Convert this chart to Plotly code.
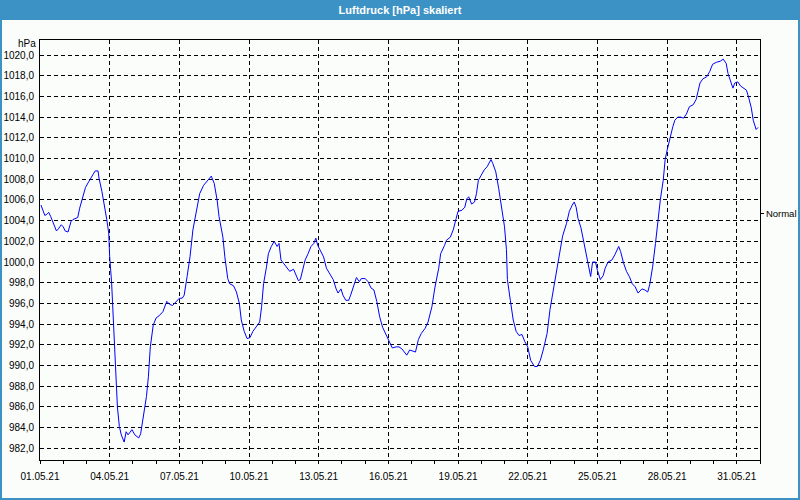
import pandas as pd
import plotly.graph_objects as go

# ---- data ----
start_date = "2021-05-01"
end_date = "2021-06-01"
hours = [1, 5, 7, 9, 11, 14, 17, 19, 22, 24, 26, 29, 32, 34, 39, 41, 44, 47, 50, 52,
         55, 57, 60, 61, 64, 66, 69, 71, 72, 74, 76, 78, 80, 82, 84, 87, 89, 91, 95, 98,
         102, 104, 107, 110, 112, 114, 117, 120, 123, 127, 131, 134, 137, 141, 144, 147, 149, 152, 155, 158,
         162, 165, 169, 172, 175, 177, 180, 183, 185, 189, 191, 194, 196, 200, 203, 206, 208, 211, 214, 217,
         220, 223, 227, 229, 231, 234, 236, 239, 242, 245, 247, 249, 253, 256, 258, 262, 265, 267, 269, 271,
         274, 277, 280, 283, 285, 287, 289, 293, 296, 300, 303, 306, 308, 311, 313, 316, 319, 321, 324, 327,
         330, 332, 336, 339, 342, 345, 348, 351, 354, 358, 361, 364, 368, 371, 374, 376, 379, 382, 385, 388,
         391, 394, 398, 401, 405, 408, 412, 414, 418, 420, 424, 427, 430, 432, 436, 439, 441, 443, 446, 449,
         451, 453, 456, 459, 462, 464, 466, 468, 471, 474, 477, 480, 482, 483, 486, 489, 492, 495, 498, 501,
         504, 506, 507, 511, 514, 517, 520, 524, 527, 531, 534, 537, 540, 544, 547, 550, 552, 554, 556, 559,
         561, 564, 567, 569, 571, 574, 576, 579, 582, 584, 587, 591, 594, 598, 600, 603, 606, 609, 612, 615,
         618, 622, 625, 628, 630, 633, 636, 638, 641, 644, 646, 648, 651, 654, 656, 659, 662, 665, 668, 671,
         675, 678, 680, 682, 685, 689, 692, 695, 699, 703, 706, 709, 711, 714, 716, 718, 721, 724, 727, 730,
         732, 735, 737, 740, 742]
pressure = [1005.5, 1004.5, 1004.6, 1004.8, 1004.4, 1003.7, 1003.0, 1003.2, 1003.6, 1003.4,
            1003.0, 1002.9, 1003.9, 1004.1, 1004.3, 1005.2, 1006.3, 1007.2, 1007.7, 1008.0,
            1008.4, 1008.8, 1008.8, 1008.1, 1006.8, 1005.8, 1004.1, 1002.8, 1000.5, 998.0,
            994.1, 989.9, 986.0, 984.1, 983.3, 982.6, 983.6, 983.3, 983.8, 983.3,
            983.0, 983.4, 985.1, 987.0, 988.9, 991.8, 993.9, 994.6, 994.8, 995.2,
            996.2, 995.9, 995.8, 996.2, 996.5, 996.5, 996.8, 998.6, 1000.5, 1003.1,
            1005.0, 1006.6, 1007.4, 1007.7, 1008.1, 1008.3, 1007.6, 1006.0, 1004.4, 1002.4,
            1000.5, 998.4, 997.9, 997.7, 997.1, 996.0, 994.4, 993.3, 992.6, 992.7,
            993.3, 993.7, 994.2, 995.7, 997.9, 999.5, 1000.8, 1001.5, 1002.0, 1001.5,
            1001.8, 1000.2, 999.7, 999.4, 999.1, 999.3, 998.6, 998.2, 998.3, 999.2,
            1000.2, 1000.8, 1001.5, 1001.8, 1002.3, 1001.6, 1001.2, 1000.5, 999.4, 998.7,
            998.3, 997.4, 997.0, 997.4, 996.8, 996.3, 996.3, 996.8, 997.6, 998.5,
            998.1, 998.4, 998.4, 998.1, 997.5, 997.3, 996.2, 994.7, 993.7, 992.9,
            992.3, 991.7, 991.8, 991.8, 991.6, 991.4, 991.0, 991.5, 991.4, 991.3,
            992.5, 993.1, 993.6, 994.2, 995.7, 997.5, 999.4, 1000.8, 1001.6, 1002.1,
            1002.4, 1003.1, 1004.2, 1004.9, 1005.0, 1005.3, 1006.1, 1006.3, 1005.6, 1005.8,
            1006.6, 1007.9, 1008.4, 1008.9, 1009.2, 1009.6, 1009.9, 1009.5, 1008.7, 1007.1,
            1005.0, 1003.4, 1001.2, 998.3, 996.3, 994.4, 993.3, 992.9, 993.0, 992.3,
            991.8, 991.0, 990.5, 989.9, 989.9, 990.5, 991.5, 993.1, 995.4, 997.6,
            999.2, 1001.0, 1002.5, 1003.7, 1004.9, 1005.5, 1005.8, 1005.3, 1004.2, 1003.3,
            1002.4, 1001.0, 999.5, 998.6, 1000.0, 1000.0, 999.2, 998.3, 998.7, 999.4,
            1000.0, 1000.2, 1000.7, 1001.5, 1001.0, 999.9, 999.1, 998.6, 997.9, 997.6,
            997.0, 997.4, 997.3, 997.1, 997.8, 999.5, 1001.8, 1003.7, 1006.0, 1007.9,
            1009.9, 1010.8, 1012.1, 1013.1, 1013.7, 1014.0, 1014.0, 1013.9, 1014.3, 1015.0,
            1015.2, 1015.7, 1016.5, 1017.3, 1017.7, 1017.9, 1018.4, 1019.1, 1019.3, 1019.4,
            1019.6, 1019.2, 1018.2, 1017.4, 1016.8, 1017.3, 1017.4, 1017.0, 1016.8, 1016.6,
            1016.0, 1014.9, 1013.7, 1012.8, 1013.0]
y_range = [980.87, 1021.45]
normal_value = [1004.64]
normal_text = ["Normal"]
title_text = "Luftdruck [hPa] skaliert"
unit_text = "hPa"

times = pd.Timestamp(start_date) + pd.to_timedelta(hours, unit="h")

BLUE = "#3d92c5"
BG = "#fbfdfb"
FONT = "Liberation Sans"
DAY_MS = 86400000

fig = go.Figure()
fig.add_trace(go.Scatter(x=times, y=pressure, mode="lines",
                         line=dict(color="#0000ff", width=1), showlegend=False,
                         hoverinfo="x+y"))
# invisible trace on the right axis for the "Normal" marker tick
fig.add_trace(go.Scatter(x=[times[0]], y=normal_value, yaxis="y2", mode="markers",
                         marker=dict(opacity=0), showlegend=False, hoverinfo="skip"))

W, H = 800, 500
ml, mr, mt, mb = 40, 40, 40, 40
pw, ph = W - ml - mr, H - mt - mb


def px_x(x):
    return (x - ml) / pw


def px_y(y):
    return (H - mb - y) / ph


fig.update_layout(
    width=W, height=H, autosize=False,
    margin=dict(l=ml, r=mr, t=mt, b=mb, pad=0),
    paper_bgcolor=BG, plot_bgcolor=BG,
    separators=",.",
    font=dict(family=FONT, size=10, color="#000000"),
    title=dict(text=title_text, x=0.5, xanchor="center", xref="paper",
               y=1 - 10 / H, yref="container", yanchor="middle",
               font=dict(family=FONT, size=11, color="#ffffff", weight="bold")),
    xaxis=dict(type="date", range=[start_date, end_date], automargin=False,
               tick0=start_date, dtick=3 * DAY_MS, tickformat="%d.%m.%y",
               ticks="outside", ticklen=3, tickcolor="#000000", tickwidth=1,
               showline=True, linecolor="#000000", linewidth=1, mirror=True,
               showgrid=True, gridcolor="#000000", gridwidth=1, griddash="4px,3px",
               zeroline=False, ticklabelstandoff=4,
               minor=dict(dtick=DAY_MS, tick0=start_date, ticks="outside", ticklen=3,
                          tickcolor="#000000", tickwidth=1, showgrid=False)),
    yaxis=dict(range=y_range, tick0=982, dtick=2, tickformat=".1f", automargin=False,
               ticks="", showline=True, linecolor="#000000", linewidth=1, mirror=True,
               showgrid=True, gridcolor="#000000", gridwidth=1, griddash="4px,3px",
               zeroline=False, ticklabelstandoff=3),
    yaxis2=dict(range=y_range, overlaying="y", side="right", automargin=False,
                tickvals=normal_value, ticktext=normal_text,
                ticks="outside", ticklen=3, tickcolor="#000000",
                tickfont=dict(family=FONT, size=9.5, color="#000000"),
                showgrid=False, showline=False, zeroline=False, ticklabelstandoff=0),
    shapes=[
        dict(type="rect", xref="paper", yref="paper", layer="below",
             x0=px_x(0), x1=px_x(W), y0=px_y(20), y1=px_y(0),
             fillcolor=BLUE, line=dict(width=0)),
        dict(type="rect", xref="paper", yref="paper", layer="below",
             x0=px_x(1), x1=px_x(W - 1), y0=px_y(H - 1), y1=px_y(1),
             fillcolor="rgba(0,0,0,0)", line=dict(color=BLUE, width=2)),
    ],
    annotations=[
        dict(text=unit_text, xref="paper", yref="paper", x=px_x(38), y=px_y(44),
             xanchor="right", yanchor="middle", showarrow=False,
             font=dict(family=FONT, size=10, color="#000000")),
    ],
)

fig.write_html("out.html", config={"displayModeBar": False},
               post_script="document.body.style.margin='0';"
                           "document.body.style.overflow='hidden';")
